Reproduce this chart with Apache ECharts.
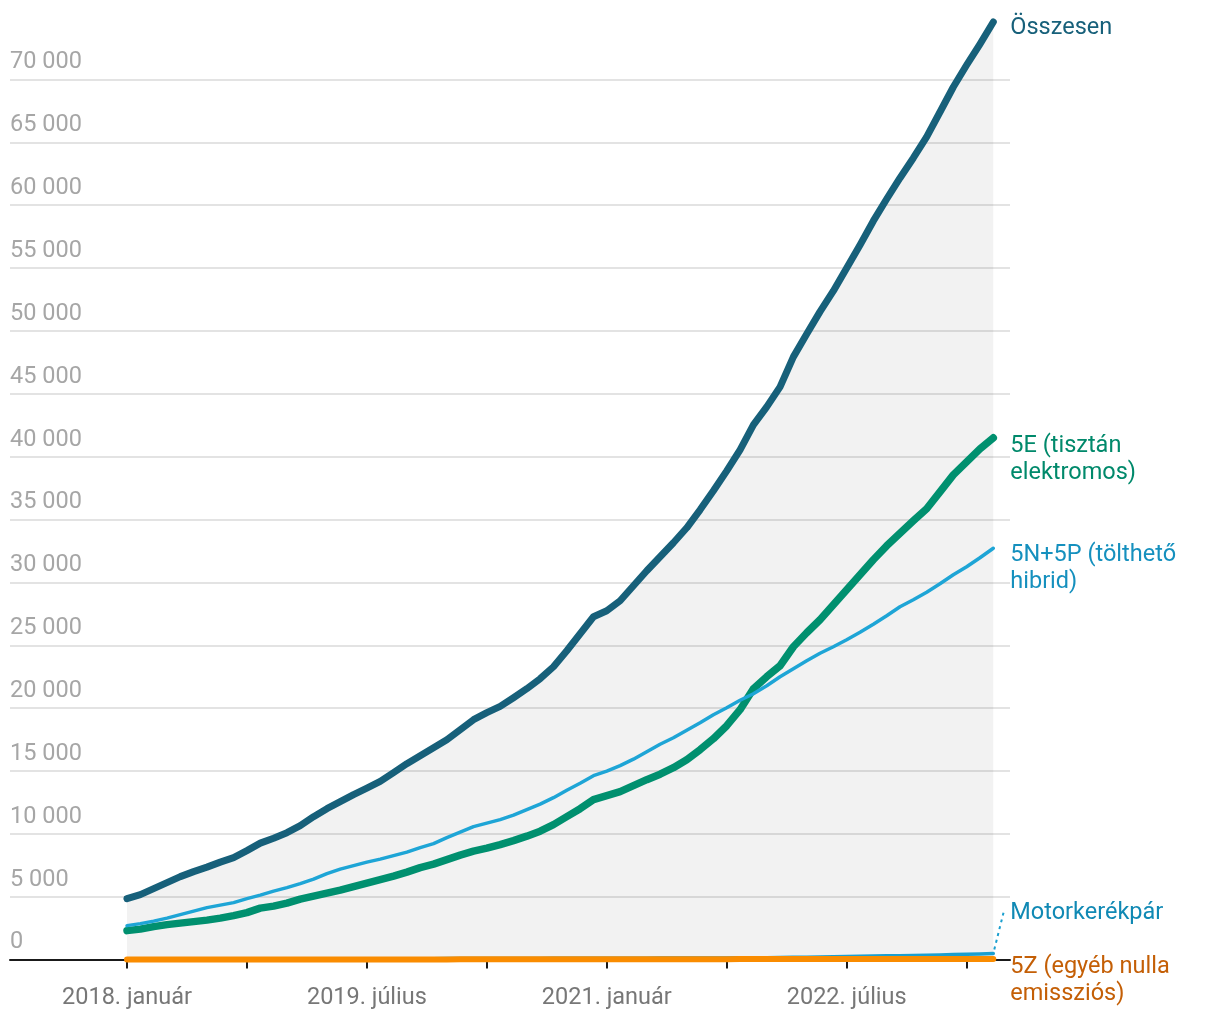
<!DOCTYPE html>
<html>
<head>
<meta charset="utf-8">
<script src="https://cdn.jsdelivr.net/npm/echarts@6/dist/echarts.min.js"></script>
<style>
html,body{margin:0;padding:0;background:#fff;}
#chart{width:1220px;height:1020px;}
</style>
</head>
<body>
<div id="chart"></div>
<script>
const monthNames = ['január','február','március','április','május','június','július','augusztus','szeptember','október','november','december'];
const startYear = 2018;
const monthCount = 66;

const osszesen = [4850,5168,5645,6122,6599,6996,7354,7751,8109,8666,9262,9659,10097,10653,11369,12005,12561,13118,13634,14175,14867,15582,16218,16854,17490,18285,19080,19637,20137,20829,21545,22340,23294,24566,25917,27269,27746,28541,29733,30926,32039,33152,34344,35775,37286,38876,40545,42533,43964,45554,47939,49767,51540,53186,55014,56843,58751,60500,62169,63759,65429,67416,69404,71153,72822,74571];
const tisztanElektromos = [2306,2425,2624,2783,2902,3021,3140,3299,3498,3737,4094,4253,4492,4810,5048,5287,5525,5804,6082,6360,6638,6956,7314,7592,7950,8308,8626,8864,9143,9461,9818,10216,10733,11369,12005,12720,13038,13356,13833,14310,14747,15264,15900,16695,17570,18603,19875,21545,22499,23373,24884,25997,27030,28223,29415,30608,31800,32913,33907,34901,35855,37206,38558,39591,40625,41499];
const toltheto = [2703,2862,3061,3299,3578,3856,4134,4333,4532,4850,5128,5446,5724,6042,6400,6837,7195,7473,7751,7990,8268,8546,8904,9222,9699,10136,10574,10852,11130,11488,11925,12362,12879,13475,14032,14628,14986,15423,15940,16536,17132,17649,18245,18842,19478,20034,20630,21147,21783,22499,23135,23771,24367,24884,25440,26036,26672,27348,28064,28620,29216,29892,30608,31244,31959,32714];
const motor = [20,22,24,26,28,30,32,35,38,40,42,45,48,50,52,55,58,60,62,65,68,70,72,75,78,80,82,85,88,90,92,95,98,100,102,105,108,110,112,115,118,120,125,128,130,135,140,145,150,165,180,195,210,225,245,260,280,300,315,335,355,375,400,425,455,485];
const egyeb = [5,5,5,6,6,6,7,7,8,8,9,9,10,10,11,11,12,12,13,13,14,15,15,16,17,18,18,19,20,21,22,23,24,25,26,27,28,29,30,31,32,33,34,35,36,37,38,39,40,41,42,43,44,45,46,47,48,49,50,51,52,53,54,55,56,57];

const seriesNames = ['Összesen','5E (tisztán\nelektromos)','5N+5P (tölthető\nhibrid)','Motorkerékpár','5Z (egyéb nulla\nemissziós)'];
const yMin = 0, yMax = 70000, yStep = 5000;

const categories = [];
for (let i = 0; i < monthCount; i++) {
  categories.push((startYear + Math.floor(i / 12)) + '. ' + monthNames[i % 12]);
}

const FONT = 'Roboto';
const FS = 23.5;
const chart = echarts.init(document.getElementById('chart'), null, {renderer: 'canvas'});

function lineSeries(name, data, color, width, labelColor, offset, z) {
  return {
    type: 'line', name: name, data: data,
    xAxisIndex: 1, yAxisIndex: 1,
    showSymbol: false, symbol: 'none', clip: false, z: z,
    lineStyle: {color: color, width: width, cap: 'round', join: 'round'},
    endLabel: {
      show: true, formatter: name, color: labelColor,
      fontFamily: FONT, fontSize: FS, lineHeight: 27,
      distance: 17, offset: offset, align: 'left'
    },
    emphasis: {disabled: true}
  };
}

const topPx = 79.5, bottomPx = 60.4;

const option = {
  animation: false,
  backgroundColor: '#fff',
  grid: [
    {left: 10, right: 210, top: topPx, bottom: bottomPx},
    {left: 127, right: 226.7, top: topPx, bottom: bottomPx}
  ],
  xAxis: [
    {gridIndex: 0, type: 'value', min: 0, max: 1,
      axisLine: {show: true, onZero: false, lineStyle: {color: '#1a1a1a', width: 2}},
      axisTick: {show: false}, axisLabel: {show: false}, splitLine: {show: false}},
    {gridIndex: 1, type: 'category', data: categories, boundaryGap: false,
      axisLine: {show: false},
      axisTick: {show: true, interval: 8, length: 9, lineStyle: {color: '#1a1a1a', width: 2}},
      axisLabel: {interval: 17, color: '#777', fontFamily: FONT, fontSize: FS, margin: 27},
      splitLine: {show: false}}
  ],
  yAxis: [
    {gridIndex: 0, type: 'value', min: yMin, max: yMax, interval: yStep,
      axisLine: {show: false}, axisTick: {show: false},
      axisLabel: {inside: true, margin: 0, align: 'left', verticalAlign: 'bottom',
        padding: [0, 0, 5, 0], color: '#a6a6a6', fontFamily: FONT, fontSize: FS,
        formatter: v => String(v).replace(/\B(?=(\d{3})+(?!\d))/g, ' ')},
      splitLine: {show: true, lineStyle: {color: '#e3e3e3', width: 2}}},
    {gridIndex: 1, type: 'value', min: yMin, max: yMax, interval: yStep, show: false,
      splitLine: {show: false}}
  ],
  series: [
    Object.assign(lineSeries(seriesNames[0], osszesen, '#17607a', 7, '#17607a', [0, 6], 2),
      {areaStyle: {color: '#000', opacity: 0.052, origin: 'start'}}),
    lineSeries(seriesNames[1], tisztanElektromos, '#00906f', 7.5, '#00896b', [0, 22], 3),
    lineSeries(seriesNames[2], toltheto, '#1ea5d6', 3.5, '#1590be', [0, 20], 4),
    lineSeries(seriesNames[3], motor, '#1a9fcf', 3.5, '#1089b4', [0, -40], 5),
    lineSeries(seriesNames[4], egyeb, '#fa8c00', 6, '#c45f06', [0, 22], 6)
  ]
};
chart.setOption(option);

// dotted connector from the last motorcycle point to its label
const last = monthCount - 1;
const p = chart.convertToPixel({xAxisIndex: 1, yAxisIndex: 1}, [last, motor[last]]);
chart.setOption({
  graphic: [{
    type: 'line', z: 10, silent: true,
    shape: {x1: p[0] + 1, y1: p[1] - 4, x2: p[0] + 11, y2: p[1] - 44},
    style: {stroke: '#1a9fcf', lineWidth: 2, lineDash: [3, 4]}
  }]
});
</script>
</body>
</html>
